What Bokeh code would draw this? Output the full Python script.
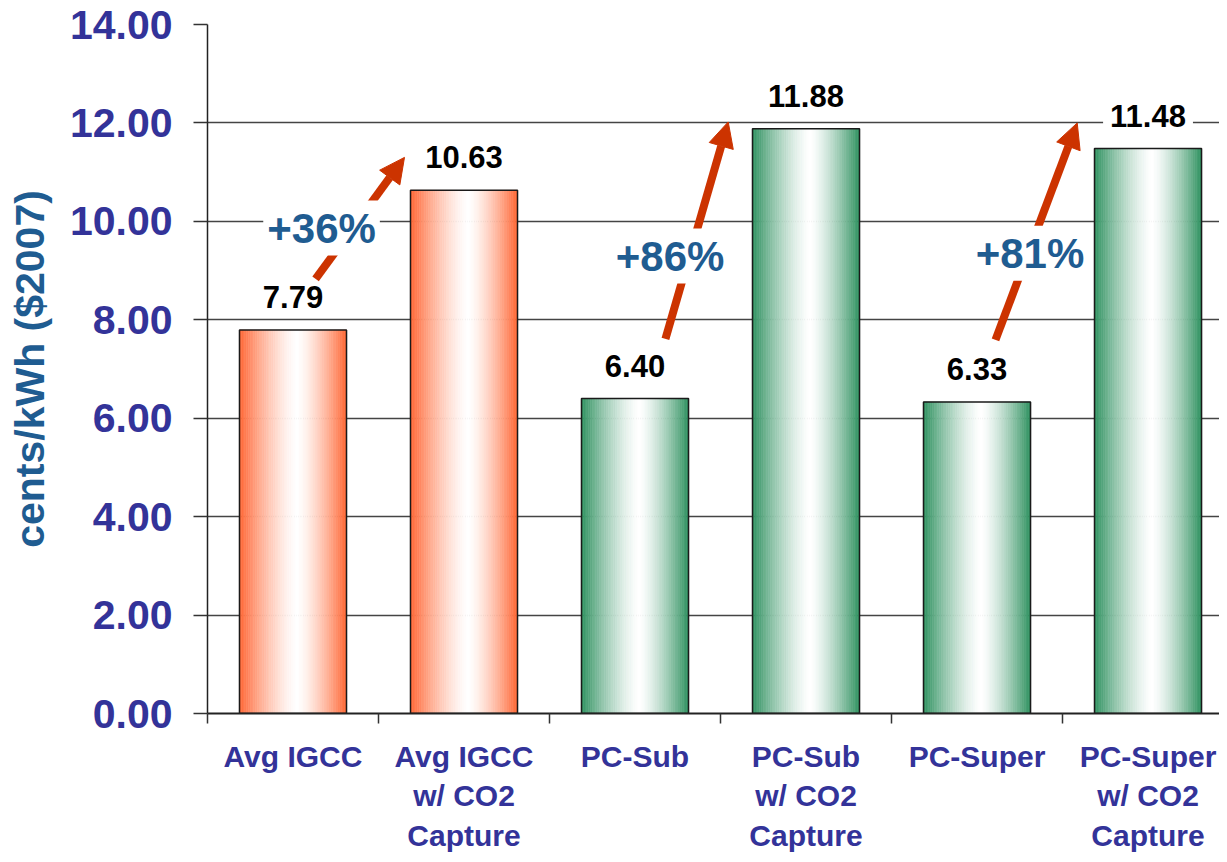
import numpy as np
from bokeh.plotting import figure
from bokeh.models import (Range1d, FixedTicker, NumeralTickFormatter, Label,
                          Arrow, NormalHead, ColumnDataSource)
from bokeh.embed import file_html
from bokeh.resources import INLINE

# ---------------- data ----------------
categories = ["Avg IGCC", "Avg IGCC\nw/ CO2\nCapture", "PC-Sub",
              "PC-Sub\nw/ CO2\nCapture", "PC-Super", "PC-Super\nw/ CO2\nCapture"]
values = [7.79, 10.63, 6.40, 11.88, 6.33, 11.48]
bar_group = ["igcc", "igcc", "pc", "pc", "pc", "pc"]
pct_labels = ["+36%", "+86%", "+81%"]
y_ticks = [0, 2, 4, 6, 8, 10, 12, 14]

# ---------------- layout / style (annotation placement, data units) ----------------
arrow_xy = [(0.632, 8.83, 1.152, 11.30),
            (2.678, 7.61, 3.045, 12.02),
            (4.608, 7.59, 5.086, 12.00)]
pct_xy = [(0.667, 9.58), (2.705, 9.01), (4.81, 9.07)]

edge_rgb = {"igcc": (255, 102, 51), "pc": (46, 145, 95)}
BAR_W = 0.626
N_STRIPS = 60
FONT = "Liberation Sans"

p = figure(width=1219, height=854, output_backend="svg", toolbar_location=None,
           x_range=Range1d(0, 5.918), y_range=Range1d(0, 14),
           min_border_left=207, min_border_right=0, min_border_top=24,
           min_border_bottom=140)
p.outline_line_color = None
p.background_fill_color = "white"
p.border_fill_color = "white"

# gradient bars drawn as thin strips
lefts, rights, tops, bottoms, cols = [], [], [], [], []
for i, (v, g) in enumerate(zip(values, bar_group)):
    x0 = i + 0.5 - BAR_W / 2
    er, eg, eb = edge_rgb[g]
    for k in range(N_STRIPS):
        t = (k + 0.5) / N_STRIPS
        peak = 0.54
        d = (peak - t) / peak if t < peak else (t - peak) / (1 - peak)
        w = d ** 1.4
        r = int(round(255 + (er - 255) * w))
        gg = int(round(255 + (eg - 255) * w))
        b = int(round(255 + (eb - 255) * w))
        lefts.append(x0 + k * BAR_W / N_STRIPS)
        rights.append(x0 + (k + 1) * BAR_W / N_STRIPS)
        tops.append(v)
        bottoms.append(0)
        cols.append("#%02x%02x%02x" % (r, gg, b))
src = ColumnDataSource(dict(left=lefts, right=rights, top=tops, bottom=bottoms, color=cols))
p.quad(left="left", right="right", top="top", bottom="bottom", source=src,
       fill_color="color", line_color="color", line_width=0.6)
centers = [i + 0.5 for i in range(len(values))]
p.vbar(x=centers, width=BAR_W, top=values, fill_color=None,
       line_color="#1a1a1a", line_width=1.5)

# value labels
for c, v in zip(centers, values):
    p.add_layout(Label(x=c, y=v, y_offset=33, text=f"{v:.2f}", text_align="center",
                       text_baseline="alphabetic", text_font=FONT, text_font_size="31px",
                       text_font_style="bold", text_color="black",
                       background_fill_color="white", padding=7))

# arrows
for (x0, y0, x1, y1) in arrow_xy:
    p.add_layout(Arrow(x_start=x0, y_start=y0, x_end=x1, y_end=y1,
                       line_color="#CC3300", line_width=8,
                       end=NormalHead(size=25, fill_color="#CC3300",
                                      line_color="#CC3300", line_width=1)))

# percent labels
for (x, y), t in zip(pct_xy, pct_labels):
    p.add_layout(Label(x=x, y=y, y_offset=14, text=t, text_align="center",
                       text_baseline="alphabetic",
                       text_font=FONT, text_font_size="42px", text_font_style="bold",
                       text_color="#1F5C91", background_fill_color="white", padding=4))

# y axis
ya = p.yaxis[0]
ya.ticker = FixedTicker(ticks=y_ticks)
ya.formatter = NumeralTickFormatter(format="0.00")
ya.major_label_text_font = FONT
ya.major_label_text_font_size = "41px"
ya.major_label_text_font_style = "bold"
ya.major_label_text_color = "#333399"
ya.major_tick_out = 14
ya.major_tick_in = 0
ya.major_tick_line_color = "#333333"
ya.major_tick_line_width = 1.5
ya.minor_tick_line_color = None
ya.major_label_standoff = 21
ya.axis_line_color = "#222222"
ya.axis_line_width = 1.5
ya.axis_label = "cents/kWh ($2007)"
ya.axis_label_text_font = FONT
ya.axis_label_text_font_size = "41px"
ya.axis_label_text_font_style = "bold"
ya.axis_label_text_color = "#1F5C91"
ya.axis_label_standoff = 14

# x axis
xa = p.xaxis[0]
xa.ticker = FixedTicker(ticks=centers, minor_ticks=list(range(0, 7)))
xa.major_label_overrides = {c: lab for c, lab in zip(centers, categories)}
xa.major_label_text_font = FONT
xa.major_label_text_font_size = "30px"
xa.major_label_text_font_style = "bold"
xa.major_label_text_color = "#333399"
xa.major_label_text_line_height = 1.2
xa.major_tick_out = 0
xa.major_tick_in = 0
xa.major_tick_line_color = None
xa.minor_tick_out = 10
xa.minor_tick_in = 0
xa.minor_tick_line_color = "#333333"
xa.minor_tick_line_width = 1.5
xa.major_label_standoff = 16
xa.axis_line_color = "#222222"
xa.axis_line_width = 2

p.xgrid.grid_line_color = None
p.ygrid.ticker = FixedTicker(ticks=y_ticks)
p.ygrid.grid_line_color = "#444444"
p.ygrid.grid_line_width = 1.3

open("out.html", "w").write(file_html(p, INLINE))
